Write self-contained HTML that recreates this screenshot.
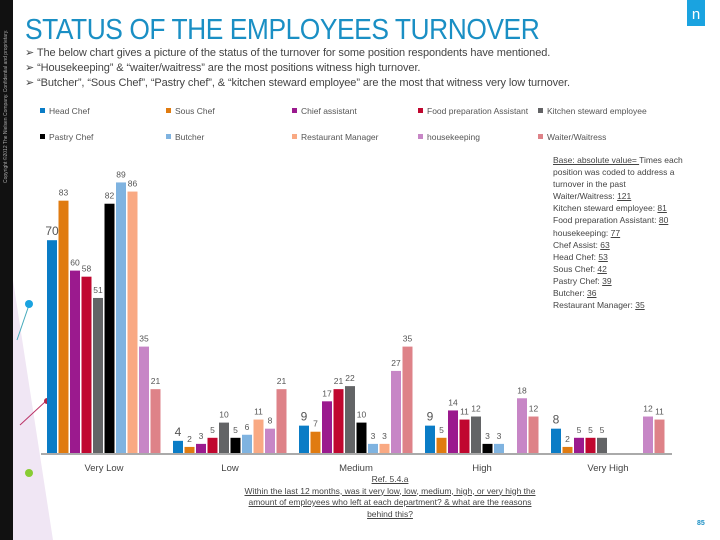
<!DOCTYPE html>
<html><head><meta charset="utf-8"><style>
body{margin:0;width:720px;height:540px;overflow:hidden;background:#fff;font-family:"Liberation Sans",sans-serif;position:relative}
.abs{position:absolute}
#title{left:25px;top:14px;font-size:29px;color:#1a8fc4;letter-spacing:-0.5px;transform:scaleX(0.91);transform-origin:left}
.bul{left:25px;font-size:11px;color:#444;white-space:nowrap;letter-spacing:-0.1px}
.lg{font-size:8.5px;color:#555;white-space:nowrap}
.lg i{display:inline-block;width:5px;height:5px;margin-right:4px;vertical-align:1px}
#base{left:553px;top:154px;font-size:8.5px;color:#444;line-height:12.1px}
u{text-decoration:underline}
#ref{left:240px;top:474px;width:300px;text-align:center;font-size:8.5px;color:#444;line-height:11.5px;text-decoration:underline}
</style></head><body>
<div class="abs" style="left:0;top:0;width:13px;height:540px;background:#111"></div>
<div class="abs" style="left:-94px;top:80px;width:200px;transform:rotate(-90deg);font-size:5px;color:#aaa;white-space:nowrap">Copyright ©2012 The Nielsen Company. Confidential and proprietary.</div>
<svg class="abs" style="left:0;top:280px" width="60" height="260">
<polygon points="13,0 53,260 13,260" fill="#e9dcef" opacity="0.7"/>
<line x1="17" y1="60" x2="29" y2="25" stroke="#4ab" /><circle cx="29" cy="24" r="4" fill="#1aa3e0"/>
<line x1="20" y1="145" x2="46" y2="121" stroke="#b36"/><circle cx="47" cy="121" r="3" fill="#b0284a"/>
<circle cx="29" cy="193" r="4" fill="#8c3"/>
</svg>
<div class="abs" style="left:687px;top:0;width:18px;height:26px;background:#1aa3e0;color:#fff;font-size:15px;text-align:center;line-height:30px">n</div>
<div id="title" class="abs">STATUS OF THE EMPLOYEES TURNOVER</div>
<div class="abs bul" style="top:46px">➢ The below chart gives a picture of the status of the turnover for some position respondents have mentioned.</div>
<div class="abs bul" style="top:61px">➢ “Housekeeping” &amp; “waiter/waitress” are the most positions witness high turnover.</div>
<div class="abs bul" style="top:76px">➢ “Butcher”, “Sous Chef”, “Pastry chef”, &amp; “kitchen steward employee” are the most that witness very low turnover.</div>
<div id="legend"></div>
<div id="base" class="abs"><u>Base: absolute value= </u> Times each<br>position was coded to address a<br>turnover in the past<br>Waiter/Waitress: <u>121</u><br>Kitchen steward employee: <u>81</u><br>Food preparation Assistant: <u>80</u><br>housekeeping: <u>77</u><br>Chef Assist: <u>63</u><br>Head Chef: <u>53</u><br>Sous Chef: <u>42</u><br>Pastry Chef: <u>39</u><br>Butcher: <u>36</u><br>Restaurant Manager: <u>35</u></div>
<svg id="chart" class="abs" style="left:0;top:0" width="720" height="540"></svg>
<div id="ref" class="abs">Ref. 5.4.a<br>Within the last 12 months, was it very low, low, medium, high, or very high the amount of employees who left at each department? &amp; what are the reasons behind this?</div>
<div class="abs" style="left:697px;top:520px;font-size:7px;color:#1a8fc4;font-weight:bold">85</div>
<script>
const categories=["Very Low","Low","Medium","High","Very High"];
const seriesNames=["Head Chef","Sous Chef","Chief assistant","Food preparation Assistant","Kitchen steward employee","Pastry Chef","Butcher","Restaurant Manager","housekeeping","Waiter/Waitress"];
const colors=["#0a7cc6","#e07b10","#9b1a8e","#c0072f","#636466","#000000","#7fb3e0","#f9a983","#c786c6","#de8288"];
const headChef=[70,4,9,9,8];
const sousChef=[83,2,7,5,2];
const chiefAssistant=[60,3,17,14,5];
const foodPrep=[58,5,21,11,5];
const kitchenSteward=[51,10,22,12,5];
const pastryChef=[82,5,10,3,0];
const butcher=[89,6,3,3,0];
const restaurantManager=[86,11,3,0,0];
const housekeeping=[35,8,27,18,12];
const waiter=[21,21,35,12,11];
const series=[headChef,sousChef,chiefAssistant,foodPrep,kitchenSteward,pastryChef,butcher,restaurantManager,housekeeping,waiter];
const NS="http://www.w3.org/2000/svg";
const svg=document.getElementById('chart');
const baseY=453,scale=3.04,g0=47,gStep=126,bStep=11.5,bW=10;
const y=v=>baseY-v*scale;
const x=(c,s)=>g0+c*gStep+s*bStep;
function mk(t,a){const e=document.createElementNS(NS,t);for(const k in a)e.setAttribute(k,a[k]);svg.appendChild(e);return e;}
const ax=mk('line',{x1:41,x2:672,y1:baseY+1,y2:baseY+1,stroke:'#aaa','stroke-width':2});


categories.forEach((c,ci)=>{
 const t=mk('text',{x:x(ci,0)+57,y:471,'font-size':9.5,fill:'#444','text-anchor':'middle','font-family':'Liberation Sans'});
 t.textContent=c;
 
 
 series.forEach((s,si)=>{
  const v=s[ci]; if(!v) return;
  const r=mk('rect',{x:x(ci,si),y:y(v),width:bW,height:v*scale,fill:colors[si]});
  
  
  const l=mk('text',{x:x(ci,si)+bW/2,y:y(v)-5,'font-size':si==0?12:8.5,fill:'#555','text-anchor':'middle','font-family':'Liberation Sans'});
  l.textContent=v;
  
  
 });
});
const lg=document.getElementById('legend');
const lx=[40,166,292,418,538];
seriesNames.forEach((n,i)=>{
 const d=document.createElement('div');
 d.className='abs lg';
 d.style.left=lx[i%5]+'px';d.style.top=(i<5?106:132)+'px';
 d.innerHTML='<i style="background:'+colors[i]+'"></i>'+n;
 
 
 lg.appendChild(d);
});
</script>
</body></html>
